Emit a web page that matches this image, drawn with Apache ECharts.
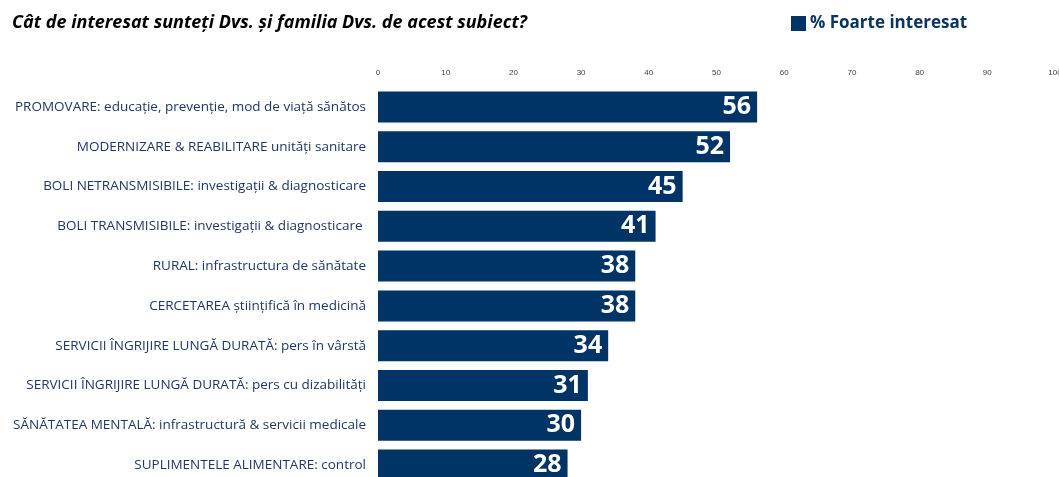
<!DOCTYPE html>
<html><head><meta charset="utf-8">
<script src="https://cdn.jsdelivr.net/npm/echarts@6/dist/echarts.min.js"></script>
<style>html,body{margin:0;padding:0;background:#fff}#c{width:1059px;height:477px}</style>
</head><body><div id="c"></div>
<script>
const categories = [
  "PROMOVARE: educație, prevenție, mod de viață sănătos",
  "MODERNIZARE & REABILITARE unități sanitare",
  "BOLI NETRANSMISIBILE: investigații & diagnosticare",
  "BOLI TRANSMISIBILE: investigații & diagnosticare ",
  "RURAL: infrastructura de sănătate",
  "CERCETAREA științifică în medicină",
  "SERVICII ÎNGRIJIRE LUNGĂ DURATĂ: pers în vârstă",
  "SERVICII ÎNGRIJIRE LUNGĂ DURATĂ: pers cu dizabilități",
  "SĂNĂTATEA MENTALĂ: infrastructură & servicii medicale",
  "SUPLIMENTELE ALIMENTARE: control"
];
const values = [56, 52, 45, 41, 38, 38, 34, 31, 30, 28];
const seriesName = "% Foarte interesat";
const titleText = "Cât de interesat sunteți Dvs. și familia Dvs. de acest subiect?";

const chart = echarts.init(document.getElementById('c'));
chart.setOption({
  animation: false,
  title: {
    text: titleText, left: 7, top: 9,
    textStyle: {fontFamily: 'Open Sans', fontStyle: 'italic', fontWeight: 'bold', fontSize: 18, color: '#000'}
  },
  legend: {
    data: [seriesName], left: 786, top: 10, itemWidth: 15, itemHeight: 15, itemGap: 5,
    icon: 'rect',
    textStyle: {fontFamily: 'Open Sans', fontWeight: 'bold', fontSize: 17, color: '#0b3462', padding: [0,0,0,-1]}
  },
  grid: {left: 378, right: 4, top: 87, height: 398, outerBoundsMode: 'none', containLabel: false},
  xAxis: {
    type: 'value', position: 'top', min: 0, max: 100, interval: 10,
    axisLine: {show: false}, axisTick: {show: false}, splitLine: {show: false},
    axisLabel: {fontSize: 8, color: '#404040', fontFamily: 'Liberation Sans', margin: 10}
  },
  yAxis: {
    type: 'category', inverse: true, data: categories,
    axisLine: {show: false}, axisTick: {show: false},
    axisLabel: {fontSize: 13.5, color: '#1f3864', fontFamily: 'Open Sans', margin: 12}
  },
  series: [{
    name: seriesName, type: 'bar', data: values, barCategoryGap: '22%',
    itemStyle: {color: '#003366'},
    label: {show: true, position: 'insideRight', distance: 6, color: '#fff', fontWeight: 'bold', fontSize: 25, fontFamily: 'Open Sans'}
  }]
});
</script></body></html>
